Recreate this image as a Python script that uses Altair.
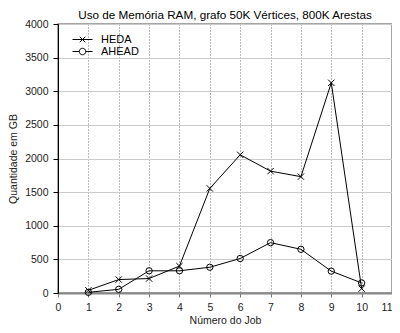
import altair as alt
import pandas as pd

jobs = [1, 2, 3, 4, 5, 6, 7, 8, 9, 10]
heda = [40, 200, 215, 400, 1555, 2055, 1812, 1730, 3125, 65]
ahead = [10, 55, 330, 330, 383, 513, 749, 650, 325, 150]
series = ["HEDA", "AHEAD"]
x_ticks = list(range(0, 12))
y_ticks = list(range(0, 4001, 500))

df = pd.DataFrame({
    "job": jobs * 2,
    "valor": heda + ahead,
    "serie": [series[0]] * len(jobs) + [series[1]] * len(jobs),
})

X_PATH = "M-1,-1L1,1M-1,1L1,-1"
LEG_X = "M-2,0L2,0M-0.55,-0.55L0.55,0.55M-0.55,0.55L0.55,-0.55"
LEG_O = "M-2,0L-0.65,0M0.65,0L2,0M-0.65,0A0.65,0.65 0 1,0 0.65,0A0.65,0.65 0 1,0 -0.65,0"

FONT = "Liberation Sans"
NARROW = "Liberation Sans Narrow, Liberation Sans"

x_enc = alt.X("job:Q", title="Número do Job",
              scale=alt.Scale(domain=[0, 11], nice=False),
              axis=alt.Axis(values=x_ticks, grid=True, gridDash=[1, 2], gridColor="#777",
                            ticks=True, tickSize=4, tickColor="#777", labelPadding=5,
                            domainColor="#888", domainWidth=2,
                            labelAlign=alt.expr("datum.value == 11 ? 'right' : 'center'"),
                            titlePadding=3, format="d"))
y_enc = alt.Y("valor:Q", title="Quantidade em GB",
              scale=alt.Scale(domain=[0, 4000], nice=False),
              axis=alt.Axis(values=y_ticks, grid=True, gridColor="#ccc", tickSize=5,
                            tickColor="black", domainColor="black", labelPadding=5,
                            titlePadding=6, format="d"))

base = alt.Chart(df)

lines = base.mark_line(color="black", strokeWidth=1).encode(
    x=x_enc, y=y_enc, detail="serie:N"
)

points = base.mark_point(filled=False, color="black", strokeWidth=1, size=40, opacity=1).encode(
    x=x_enc, y=y_enc,
    shape=alt.Shape("serie:N", scale=alt.Scale(domain=series, range=[X_PATH, "circle"]), legend=None),
)

legend_layer = base.transform_filter("false").mark_point(
    filled=False, color="black", strokeWidth=1, opacity=1
).encode(
    x=x_enc, y=y_enc,
    shape=alt.Shape("serie:N", scale=alt.Scale(domain=series, range=[LEG_X, LEG_O]),
                    legend=alt.Legend(title=None, orient="none", legendX=19, legendY=10,
                                      symbolSize=100, labelFontSize=11, labelFont=NARROW,
                                      labelColor="black", labelOffset=13, rowPadding=0,
                                      symbolStrokeColor="black", symbolStrokeWidth=1,
                                      symbolFillColor="transparent", padding=0)),
)

chart = alt.layer(lines, points, legend_layer).resolve_scale(shape="independent").resolve_legend(
    shape="independent"
).properties(
    width=334, height=269,
    title=alt.TitleParams("Uso de Memória RAM, grafo 50K Vértices, 800K Arestas",
                          fontSize=11.7, font=FONT, fontWeight="normal", color="black", offset=-3),
    autosize=alt.AutoSizeParams(type="none"),
    padding={"left": 50, "top": 16, "right": 0, "bottom": 32},
).configure_axis(
    labelFont=FONT, labelFontSize=10.5, labelColor="#222", titleFont=FONT, titleFontSize=10.5,
    titleFontWeight="normal", titleColor="#222",
).configure_view(
    stroke="#888", strokeWidth=1.5
)

chart.save("out.html", embed_options={"renderer": "svg", "actions": False})
